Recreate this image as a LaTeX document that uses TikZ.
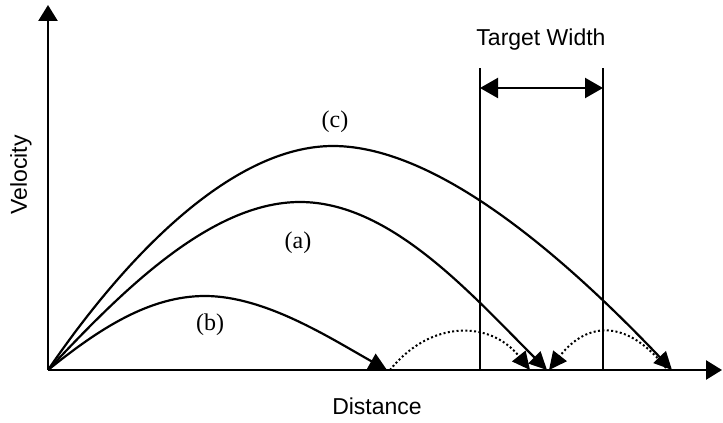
\documentclass[tikz,border=0pt]{standalone}
\usepackage{fontspec}
\setsansfont{Liberation Sans}
\newfontfamily\curvefont{Liberation Serif}
\usetikzlibrary{arrows.meta}

\tikzset{
  axis/.style={line width=2.6pt, -{Triangle[length=16pt,width=19pt]}},
  path/.style={line width=2.2pt, -{Triangle[length=18pt,width=17pt]}},
  bounce/.style={line width=2pt, dash pattern=on 2pt off 2.4pt, -{Triangle[length=18pt,width=17pt]}},
  limit/.style={line width=1.9pt},
  axislabel/.style={font=\sffamily\fontsize{23}{26}\selectfont},
  curvelabel/.style={font=\curvefont\fontsize{24}{26}\selectfont}
}

\begin{document}
\begin{tikzpicture}[x=1pt, y=1pt]
        \useasboundingbox (0,0) rectangle (723,423);

        % Axes
        \coordinate (O) at (48,53);
        \coordinate (ytip) at (48,418);
        \coordinate (xtip) at (722,53);
        \draw[axis] (O) -- (ytip);
        \draw[axis] (O) -- (xtip);
        \node[axislabel, rotate=90] (vel) at (21,248) {Velocity};
        \node[axislabel] (dist) at (377,17) {Distance};

        % Target width
        \coordinate (tl) at (480,53);
        \coordinate (tr) at (603,53);
        \coordinate (tltop) at (480,355);
        \coordinate (trtop) at (603,355);
        \draw[limit] (tl) -- (tltop);
        \draw[limit] (tr) -- (trtop);
        \coordinate (wl) at (480,335);
        \coordinate (wr) at (603,335);
        \draw[line width=2.2pt, {Triangle[length=18pt,width=20pt]}-{Triangle[length=18pt,width=20pt]}] (wl) -- (wr);
        \node[axislabel] (target) at (541,383) {Target Width};

        % Landing points
        \coordinate (landb) at (387,53);
        \coordinate (landa) at (547,53);
        \coordinate (landc) at (672,53);
        \coordinate (bounceb) at (530,53);
        \coordinate (bouncec) at (549,53);

        % Trajectories
        \draw[path] (O) .. controls (130,173) and (235,277) .. (333,277)
                        .. controls (440,277) and (570,160) .. (landc);
        \draw[path] (O) .. controls (120,130) and (210,221) .. (300,221)
                        .. controls (390,221) and (470,130) .. (landa);
        \draw[path] (O) .. controls (100,95) and (150,127) .. (205,127)
                        .. controls (265,127) and (330,85) .. (landb);

        % Bounces
        \draw[bounce] (390,53) .. controls (430,103) and (490,103) .. (bounceb);
        \draw[bounce] (666,55) .. controls (628,103) and (588,103) .. (bouncec);

        % Labels
        \node[curvelabel] (lc) at (335,301) {(c)};
        \node[curvelabel] (la) at (298,180) {(a)};
        \node[curvelabel] (lb) at (210,98) {(b)};
    \end{tikzpicture}
\end{document}
